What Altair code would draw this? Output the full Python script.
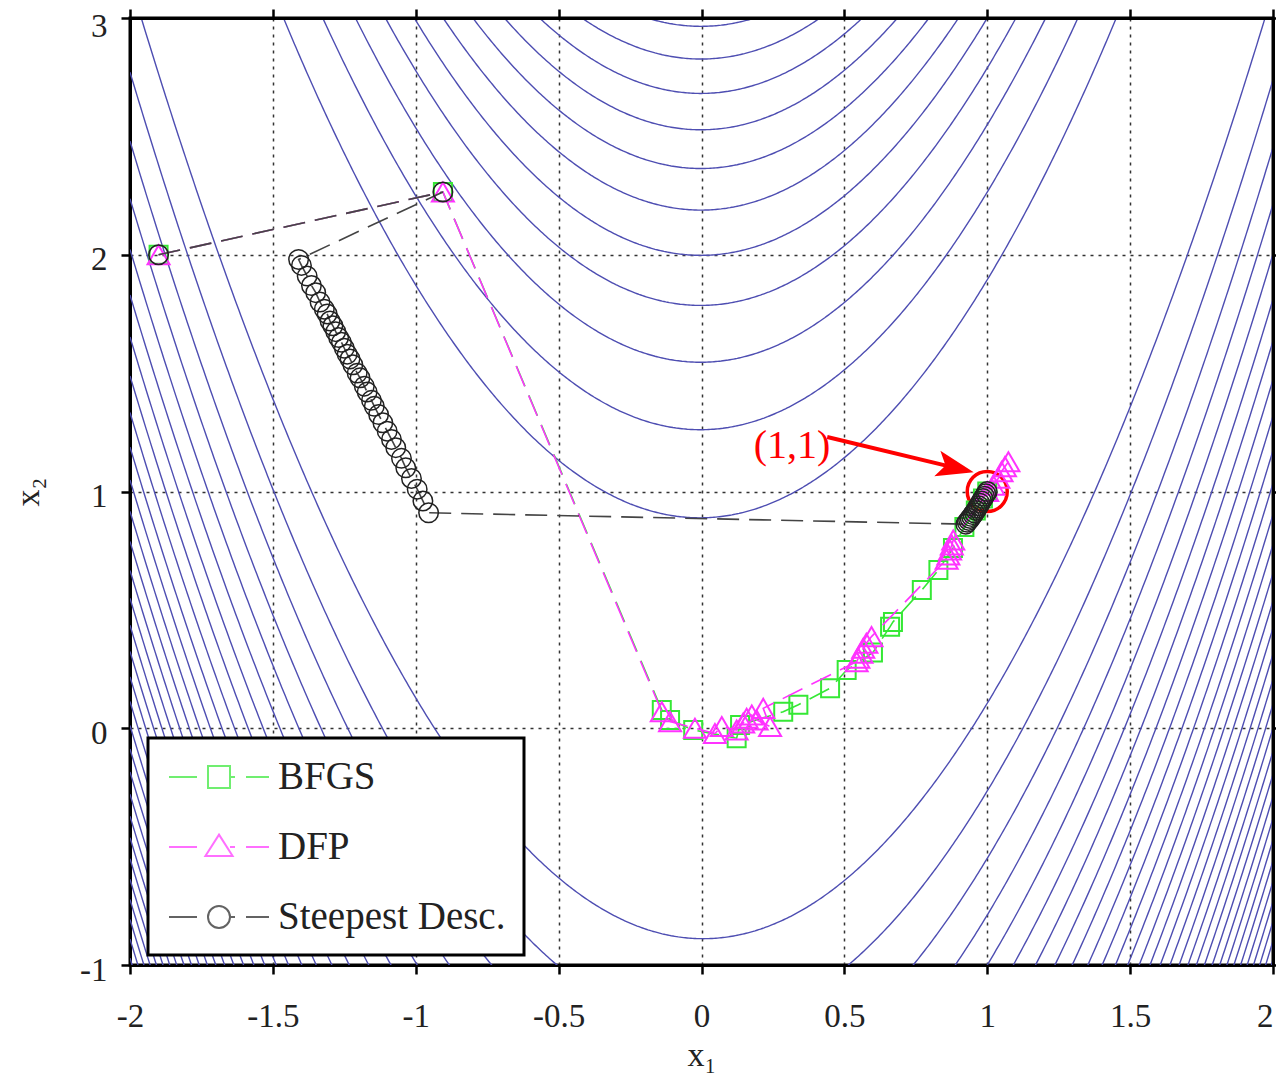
import numpy as np
import pandas as pd
import altair as alt

# Contour levels of the Rosenbrock function f = (1-x1)^2 + 100 (x2 - x1^2)^2
levels = [80, 160, 240, 320, 400, 480, 560, 640, 720, 800, 880, 960, 1040, 1120, 1200,
          1280, 1360, 1440, 1520, 1600, 1680, 1760, 1840, 1920, 2000, 2080, 2160, 2240,
          2320, 2400, 2480]

# Iterates
bfgs_x = [-1.9, -0.905, -0.139, -0.11, -0.029, 0.123, 0.135, 0.286, 0.339, 0.45, 0.508,
          0.60, 0.66, 0.67, 0.771, 0.829, 0.88, 0.92, 0.96, 0.985, 1.0]
bfgs_y = [2.0, 2.265, 0.077, 0.035, -0.007, -0.042, 0.014, 0.07, 0.099, 0.169, 0.246,
          0.32, 0.429, 0.449, 0.584, 0.668, 0.761, 0.85, 0.92, 0.97, 1.0]

dfp_x = [-1.9, -0.905, -0.139, -0.11, -0.023, 0.047, 0.071, 0.123, 0.146, 0.158, 0.176,
         0.193, 0.24, 0.216, 0.543, 0.549, 0.56, 0.566, 0.577, 0.595, 0.858, 0.864,
         0.87, 0.876, 0.881, 1.074, 1.062, 1.05, 1.039, 1.021, 1.0]
dfp_y = [2.0, 2.265, 0.07, 0.028, 0.0, -0.022, 0.007, -0.007, 0.022, 0.042, 0.056,
         0.035, 0.007, 0.084, 0.281, 0.296, 0.317, 0.338, 0.359, 0.387, 0.714, 0.732,
         0.753, 0.774, 0.795, 1.126, 1.105, 1.084, 1.056, 1.027, 1.0]

sd_x = [-1.9, -0.905, -1.41, -1.40, -1.38, -1.365, -1.35, -1.335, -1.32, -1.31, -1.30,
        -1.29, -1.28, -1.27, -1.26, -1.25, -1.24, -1.23, -1.22, -1.205, -1.195, -1.18,
        -1.17, -1.155, -1.145, -1.13, -1.115, -1.10, -1.085, -1.07, -1.05, -1.035,
        -1.015, -0.995, -0.975, -0.955, 0.925, 0.93, 0.935, 0.94, 0.945, 0.95, 0.955,
        0.96, 0.965, 0.97, 0.975, 0.98, 0.985, 0.99, 0.995, 1.0]
sd_y = [2.0, 2.265, 1.98, 1.955, 1.91, 1.87, 1.84, 1.80, 1.77, 1.75, 1.72,
        1.70, 1.675, 1.65, 1.63, 1.605, 1.58, 1.56, 1.535, 1.50, 1.48, 1.445,
        1.42, 1.385, 1.36, 1.325, 1.29, 1.255, 1.22, 1.185, 1.14, 1.10,
        1.055, 1.01, 0.96, 0.91, 0.862, 0.87, 0.878, 0.886, 0.894, 0.902, 0.91,
        0.92, 0.93, 0.94, 0.95, 0.96, 0.97, 0.98, 0.99, 1.0]

series_names = ["BFGS", "DFP", "Steepest Desc."]
series_colors = ["#35e835", "#ff33ff", "#222222"]

x_ticks = [-2, -1.5, -1, -0.5, 0, 0.5, 1, 1.5, 2]
y_ticks = [-1, 0, 1, 2, 3]

# annotation
ann_text = ["(1,1)"]
ann_x = [0.317]
ann_y = [1.192]
arrow_from = (0.44, 1.23)
arrow_to = (0.889, 1.100)
minimum = (1.0, 1.0)

# ---------- contour lines of the function ----------
xs = np.linspace(-2.0, 2.0, 641)
rows = []
seg = 0
for c in levels:
    r = np.sqrt((c - (1.0 - xs) ** 2) / 100.0)
    for sgn in (1.0, -1.0):
        ys = xs ** 2 + sgn * r
        inside = (ys >= -1.0) & (ys <= 3.0)
        keep = inside.copy()
        keep[1:] |= inside[:-1]
        keep[:-1] |= inside[1:]
        idx = np.where(keep)[0]
        if len(idx) == 0:
            continue
        br = np.where(np.diff(idx) > 1)[0]
        starts = np.r_[0, br + 1]
        ends = np.r_[br, len(idx) - 1]
        for s, e in zip(starts, ends):
            ii = idx[s:e + 1]
            for j, k in enumerate(ii):
                rows.append((seg, j, round(float(xs[k]), 4), round(float(ys[k]), 4)))
            seg += 1
cdf = pd.DataFrame(rows, columns=["seg", "i", "x", "y"])

xsc = alt.Scale(domain=[-2, 2], nice=False, zero=False)
ysc = alt.Scale(domain=[-1, 3], nice=False, zero=False)
lab = "toString(datum.value)"

x_bottom = alt.Axis(values=x_ticks, labelExpr=lab, title="x₁", grid=True, tickSize=9,
                    labelPadding=26, titleBaseline="alphabetic", titleY=100, titleFontSize=34,
                    labelAlign={"condition": {"test": "datum.value == 2", "value": "right"},
                                "value": "center"})
y_left = alt.Axis(values=y_ticks, labelExpr=lab, title="x₂", grid=True, tickSize=9,
                  labelPadding=14,
                  labelOffset={"condition": {"test": "datum.value == 3", "value": 8},
                               "value": 5},
                  titleBaseline="alphabetic", titleX=-92, titleFontSize=34)


def XN():
    return alt.X("x:Q", scale=xsc, axis=None)


def YN():
    return alt.Y("y:Q", scale=ysc, axis=None)


contour = alt.Chart(cdf).mark_line(clip=True, color="#4e4eb2", strokeWidth=1.4).encode(
    x=alt.X("x:Q", scale=xsc, axis=x_bottom),
    y=alt.Y("y:Q", scale=ysc, axis=y_left),
    detail="seg:N",
    order="i:Q",
)


def path_df(xv, yv):
    return pd.DataFrame({"x": xv, "y": yv, "i": list(range(len(xv)))})


bdf = path_df(bfgs_x, bfgs_y)
ddf = path_df(dfp_x, dfp_y)
sdf = path_df(sd_x, sd_y)

red_circle = alt.Chart(pd.DataFrame({"x": [minimum[0]], "y": [minimum[1]]})).mark_point(
    shape="circle", size=1600, color="#ff0000", strokeWidth=3.5, filled=False, clip=True, opacity=1
).encode(x=XN(), y=YN())


def line_layer(df, col):
    return alt.Chart(df).mark_line(clip=True, color=col, strokeWidth=1.6,
                                   strokeDash=[22, 10]).encode(x=XN(), y=YN(), order="i:Q")


def pt_layer(df, col, shape, size, sw):
    return alt.Chart(df).mark_point(clip=True, color=col, shape=shape, size=size,
                                    strokeWidth=sw, filled=False, opacity=1).encode(x=XN(), y=YN())


bl = line_layer(bdf, series_colors[0])
bp = pt_layer(bdf, series_colors[0], "square", 324, 2)
dl = line_layer(ddf, series_colors[1])
dp = pt_layer(ddf, series_colors[1], "triangle-up", 484, 2)
sl = line_layer(sdf, "#444444")
sp = pt_layer(sdf, series_colors[2], "circle", 380, 1.5)

adf = pd.DataFrame({"x": [arrow_from[0]], "y": [arrow_from[1]],
                    "x2": [arrow_to[0]], "y2": [arrow_to[1]]})
arrow = alt.Chart(adf).mark_rule(color="#ff0000", strokeWidth=4).encode(
    x=XN(), y=YN(), x2="x2:Q", y2="y2:Q")
head = alt.Chart(pd.DataFrame({"x": [arrow_to[0]], "y": [arrow_to[1]]})).mark_point(
    shape="M1,0L-1,-0.7L-0.55,0L-1,0.7Z", size=1400, angle=13.5, filled=True,
    color="#ff0000", opacity=1, strokeWidth=0
).encode(x=XN(), y=YN())

tdf = pd.DataFrame({"x": ann_x, "y": ann_y, "t": ann_text})
text = alt.Chart(tdf).mark_text(font="Liberation Serif", fontSize=40, color="#ff0000").encode(
    x=XN(), y=YN(), text="t:N")

# legend layer (points placed outside the plot and clipped away)
sym_paths = [
    "M-2.5,0H-1.1M-0.55,-0.55H0.55V0.55H-0.55ZM0.55,0H0.8M1.35,0H2.5",
    "M-2.5,0H-1.1M0,-0.62L0.68,0.45H-0.68ZM0.55,0H0.8M1.35,0H2.5",
    "M-2.5,0H-1.1M0.55,0A0.55,0.55,0,1,1,-0.55,0A0.55,0.55,0,1,1,0.55,0ZM0.55,0H0.8M1.35,0H2.5",
]
ldf = pd.DataFrame({"series": series_names, "x": [5, 5, 5], "y": [5, 5, 5]})
leg_kw = dict(title=None, orient="none", legendX=18, legendY=720, labelLimit=500,
              symbolSize=1600, symbolOffset=32, labelOffset=38, rowPadding=29)
legend_layer = alt.Chart(ldf).mark_point(clip=True, filled=False, strokeWidth=2).encode(
    x=XN(), y=YN(),
    color=alt.Color("series:N", scale=alt.Scale(domain=series_names, range=series_colors),
                    legend=alt.Legend(**leg_kw)),
    shape=alt.Shape("series:N", scale=alt.Scale(domain=series_names, range=sym_paths),
                    legend=alt.Legend(**leg_kw)),
)

frame = alt.Chart(ldf).mark_point(clip=True, opacity=0).encode(
    x=alt.X("x:Q", scale=xsc, axis=alt.Axis(orient="top", values=x_ticks, labels=False,
                                             grid=False, title=None, tickSize=9, zindex=1)),
    y=alt.Y("y:Q", scale=ysc, axis=alt.Axis(orient="right", values=y_ticks, labels=False,
                                             grid=False, title=None, tickSize=9, zindex=1)),
)

chart = alt.layer(
    contour, red_circle, bl, bp, dl, dp, sl, sp, arrow, head, text, legend_layer, frame
).resolve_axis(x="independent", y="independent").properties(
    width=1143, height=947,
    autosize=alt.AutoSizeParams(type="none"),
    padding={"left": 122, "top": 10, "right": 3, "bottom": 108},
).configure_view(stroke="black", strokeWidth=3).configure_axis(
    domainColor="black", domainWidth=3, tickColor="black", tickWidth=2.5,
    labelFont="Liberation Serif", labelFontSize=33, labelColor="#222222", labelFlush=False,
    labelOverlap=False,
    titleFont="Liberation Serif", titleFontWeight="normal", titleColor="#222222",
    gridColor="#333333", gridWidth=1.5, gridDash=[3, 5], gridOpacity=1,
).configure_legend(
    strokeColor="black", strokeWidth=3, fillColor="white", padding=18, cornerRadius=0,
    symbolStrokeWidth=2, labelFont="Liberation Serif", labelFontSize=39, labelColor="#222222",
)

chart.save("out.html", embed_options={"renderer": "svg", "actions": False})
